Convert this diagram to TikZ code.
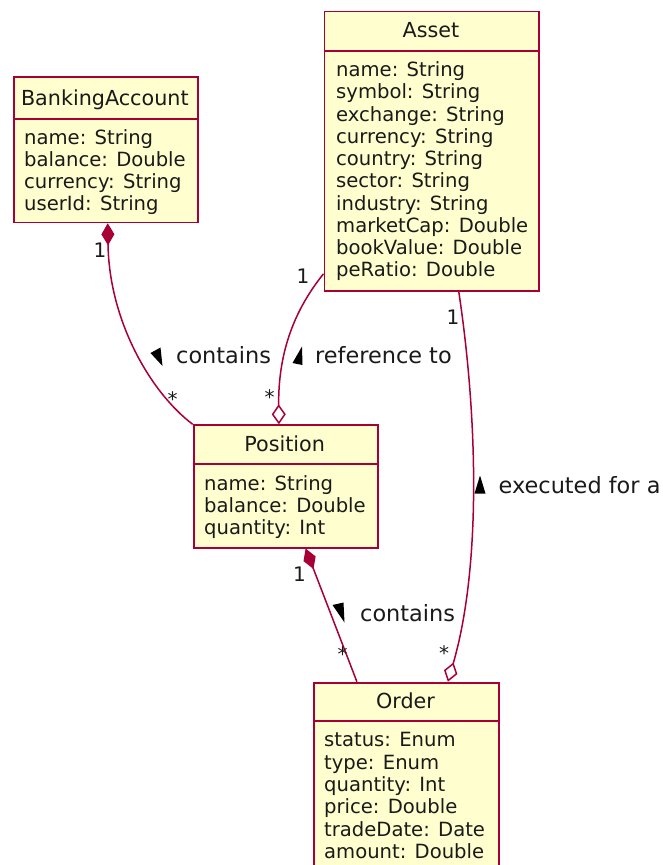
\documentclass[tikz,border=0pt]{standalone}
\usepackage{fontspec}
\setmainfont{DejaVu Sans}
\usetikzlibrary{arrows.meta}
\definecolor{umlborder}{HTML}{A80036}
\definecolor{umlfill}{HTML}{FEFECE}
\definecolor{umltext}{HTML}{1A1A1A}
\tikzset{
  classbox/.style={draw=umlborder, fill=umlfill, line width=1.8pt, inner sep=0pt, anchor=north west},
  divider/.style={draw=umlborder, line width=1.8pt},
  classtitle/.style={font=\fontsize{20.7}{24}\selectfont, text=umltext, inner sep=0pt, anchor=base},
  attr/.style={font=\fontsize{19.6}{22}\selectfont, text=umltext, inner sep=0pt, anchor=base west},
  mult/.style={font=\fontsize{20}{24}\selectfont, text=umltext, inner sep=0pt, anchor=base},
  elabel/.style={font=\fontsize{22.4}{26}\selectfont, text=umltext, inner sep=0pt, anchor=base west},
  assoc/.style={draw=umlborder, line width=1.5pt},
  comp/.style={assoc, arrows={Diamond[length=22pt,width=13pt,fill=umlborder]-}},
  aggr/.style={assoc, arrows={-Diamond[length=20pt,width=14pt,fill=white]}},
  dirmark/.style={fill=black},
}
\begin{document}
\begin{tikzpicture}[x=1pt, y=-1pt]
\useasboundingbox (0,0) rectangle (662,865);
\fill[white] (0,0) rectangle (662,865);
\clip (0,0) rectangle (662,865);

% ---- BankingAccount ----
\node[classbox, minimum width=183.7pt, minimum height=145.5pt] (ba) at (13,76) {};
\draw[divider] ([yshift=-43.3pt]ba.north west) -- ([yshift=-43.3pt]ba.north east);
\node[classtitle] (ba-title) at (104.8,105.5) {BankingAccount};
\foreach \t [count=\i] in {name: String, balance: Double, currency: String, userId: String}
  \node[attr] (ba-\i) at (24,{144.5+22*(\i-1)}) {\t};

% ---- Asset ----
\node[classbox, minimum width=214.8pt, minimum height=279.5pt] (asset) at (323.5,10.5) {};
\draw[divider] ([yshift=-40.2pt]asset.north west) -- ([yshift=-40.2pt]asset.north east);
\node[classtitle] (asset-title) at (430.9,37) {Asset};
\foreach \t [count=\i] in {name: String, symbol: String, exchange: String, currency: String,
    country: String, sector: String, industry: String, marketCap: Double,
    bookValue: Double, peRatio: Double}
  \node[attr] (asset-\i) at (336,{76.5+22.25*(\i-1)}) {\t};

% ---- Position ----
\node[classbox, minimum width=184pt, minimum height=122.4pt] (pos) at (192.7,424.3) {};
\draw[divider] ([yshift=-40pt]pos.north west) -- ([yshift=-40pt]pos.north east);
\node[classtitle] (pos-title) at (284.7,451.5) {Position};
\foreach \t [count=\i] in {name: String, balance: Double, quantity: Int}
  \node[attr] (pos-\i) at (204,{490+22.4*(\i-1)}) {\t};

% ---- Order (runs past the lower edge) ----
\node[classbox, minimum width=184.4pt, minimum height=200pt] (order) at (313.3,681.7) {};
\draw[divider] ([yshift=-39.4pt]order.north west) -- ([yshift=-39.4pt]order.north east);
\node[classtitle] (order-title) at (405.5,708.5) {Order};
\foreach \t [count=\i] in {status: Enum, type: Enum, quantity: Int, price: Double,
    tradeDate: Date, amount: Double}
  \node[attr] (order-\i) at (324,{746.8+22.3*(\i-1)}) {\t};

% ---- associations ----
\draw[comp] ([xshift=2pt]ba.south) .. controls (109,320) and (150,392) .. (pos.north west);
\draw[aggr] ([yshift=18pt]asset.south west) .. controls (296,308) and (278,350) .. ([xshift=-6.7pt]pos.north);
\draw[aggr] ([xshift=27pt]asset.south) .. controls (478,420) and (481,568) .. ([xshift=41.5pt]order.north);
\draw[comp] ([xshift=20pt]pos.south) -- ([xshift=-49.5pt]order.north);

% ---- multiplicities ----
\node[mult] (m-ba) at (100,257) {1};
\node[mult] (m-pos-a) at (172.5,406) {*};
\node[mult] (m-asset-a) at (303,283) {1};
\node[mult] (m-pos-b) at (269.5,404.5) {*};
\node[mult] (m-asset-b) at (453,324) {1};
\node[mult] (m-order-a) at (444,660) {*};
\node[mult] (m-pos-c) at (299.5,581) {1};
\node[mult] (m-order-b) at (342.5,661) {*};

% ---- association names with direction marks ----
\fill[dirmark] (150.5,353) -- (160.5,347.5) -- (162.5,366) -- cycle;
\node[elabel] (l-contains-a) at (176,363.5) {contains};
\fill[dirmark] (302,346.5) -- (292.5,363) -- (302.5,365) -- cycle;
\node[elabel] (l-ref) at (315,363.5) {reference to};
\fill[dirmark] (480,475.5) -- (474.5,493.5) -- (485.5,493.5) -- cycle;
\node[elabel] (l-exec) at (498.5,493.5) {executed for a};
\fill[dirmark] (332.5,605) -- (343.5,602.5) -- (344.5,622.5) -- cycle;
\node[elabel] (l-contains-b) at (360,621.7) {contains};
\end{tikzpicture}
\end{document}
